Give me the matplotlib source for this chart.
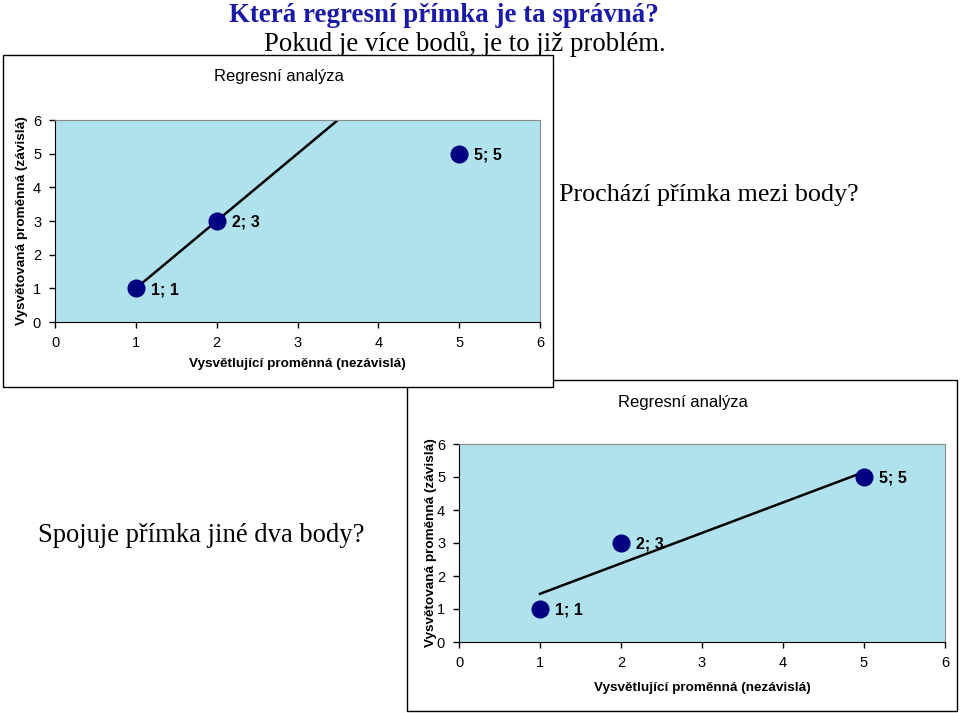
import matplotlib
matplotlib.use("Agg")
import matplotlib.pyplot as plt
from matplotlib.patches import Rectangle

# ---- data ----
points_x = [1, 2, 5]
points_y = [1, 3, 5]
point_labels = ["1; 1", "2; 3", "5; 5"]
line1_x = [1, 3.5]
line1_y = [1, 6]
line2_x = [1, 5]
line2_y = [1.46, 5.15]
ticks = [0, 1, 2, 3, 4, 5, 6]
chart_title = "Regresní analýza"
xlabel = "Vysvětlující proměnná (nezávislá)"
ylabel = "Vysvětovaná proměnná (závislá)"
heading1 = "Která regresní přímka je ta správná?"
heading2 = "Pokud je více bodů, je to již problém."
question1 = "Prochází přímka mezi body?"
question2 = "Spojuje přímka jiné dva body?"

W, H = 960, 713
fig = plt.figure(figsize=(W / 100, H / 100), dpi=100)
fig.patch.set_facecolor("white")

SANS = ["Liberation Sans", "DejaVu Sans"]
SERIF = ["Liberation Serif", "DejaVu Serif"]
BG = "#b0e2ed"
NAVY = "#000080"


def fx(px):
    return px / W


def fy(py):
    return 1 - py / H


def box(x0, y0, x1, y1, z):
    r = Rectangle((fx(x0), fy(y1)), fx(x1) - fx(x0), fy(y0) - fy(y1),
                  transform=fig.transFigure, facecolor="white",
                  edgecolor="black", lw=1.0, zorder=z)
    fig.patches.append(r)


def chart(l, t, r, b, lx, ly, z, title_xy, xlab_y, ylab_x):
    ax = fig.add_axes([fx(l), fy(b), fx(r) - fx(l), fy(t) - fy(b)], zorder=z)
    ax.set_facecolor(BG)
    ax.set_xlim(0, 6)
    ax.set_ylim(0, 6)
    ax.set_xticks(ticks)
    ax.set_yticks(ticks)
    ax.tick_params(direction="out", length=4, width=1, labelsize=10.5, pad=6)
    for lab in ax.get_xticklabels() + ax.get_yticklabels():
        lab.set_family(SANS)
    ax.spines["left"].set_color("black")
    ax.spines["bottom"].set_color("black")
    ax.spines["top"].set_color("#8a8a8a")
    ax.spines["right"].set_color("#8a8a8a")
    ax.plot(lx, ly, color="black", lw=1.8, zorder=2)
    ax.plot(points_x, points_y, "o", color=NAVY, ms=12, zorder=3, ls="none")
    for x, y, s in zip(points_x, points_y, point_labels):
        ax.annotate(s, (x, y), xytext=(11, -1), textcoords="offset points",
                    ha="left", va="center", fontsize=11.5, fontweight="bold",
                    family=SANS, zorder=4, annotation_clip=False)
    ax.set_xlabel(xlabel, fontsize=9.7, fontweight="bold", family=SANS)
    ax.xaxis.set_label_coords(fx((l + r) / 2 + 0), fy(xlab_y), transform=fig.transFigure)
    ax.set_ylabel(ylabel, fontsize=9.7, fontweight="bold", family=SANS)
    ax.yaxis.set_label_coords(fx(ylab_x), fy((t + b) / 2), transform=fig.transFigure)
    ax.xaxis.label.set_va("center")
    ax.yaxis.label.set_va("center")
    fig.text(fx(title_xy[0]), fy(title_xy[1]), chart_title, fontsize=12,
             family=SANS, ha="center", va="center", zorder=z + 0.05)
    return ax


# headings (behind the top chart box)
fig.text(fx(444), fy(15), heading1, fontsize=19.4, fontweight="bold",
         color="#1a1aa8", family=SERIF, ha="center", va="center", zorder=0.2)
fig.text(fx(465), fy(44), heading2, fontsize=19.3, color="black",
         family=SERIF, ha="center", va="center", zorder=0.2)

# bottom chart (drawn first, underneath)
box(407, 380, 957, 711, 0.3)
chart(459, 444, 945, 642, line2_x, line2_y, 0.4, (683, 402), 688, 431)

# top chart (drawn over)
box(3, 55, 553, 387, 0.6)
chart(55, 120, 540, 322, line1_x, line1_y, 0.7, (279, 76), 364, 22)

fig.text(fx(709), fy(195), question1, fontsize=18.8, family=SERIF,
         ha="center", va="center", zorder=1)
fig.text(fx(201), fy(536), question2, fontsize=19.2, family=SERIF,
         ha="center", va="center", zorder=1)

fig.savefig("out.png", dpi=100)
